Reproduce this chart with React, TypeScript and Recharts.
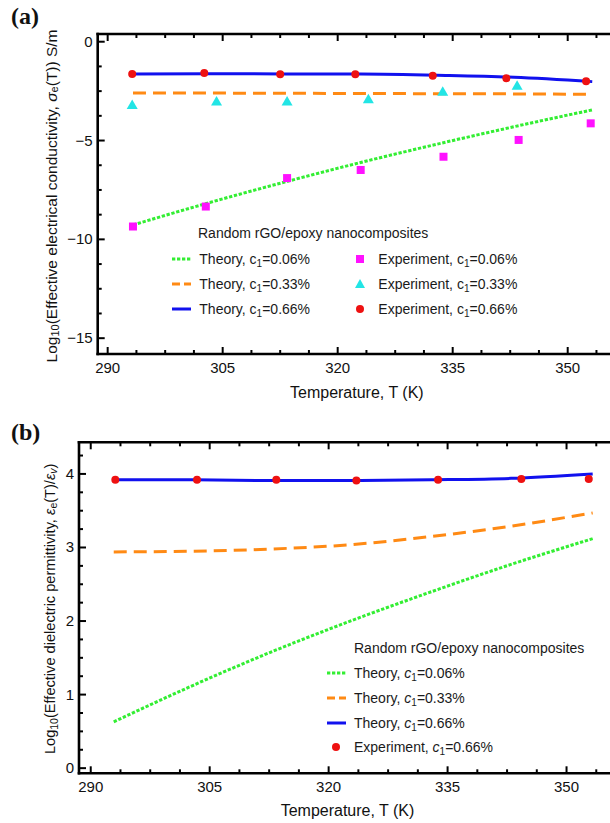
import React from 'react';
import { ComposedChart, Line, Scatter, XAxis, YAxis, Legend } from 'recharts';

// (a) log10 effective electrical conductivity
const tempTheoryA = [293.3, 303, 313, 323, 333, 343, 353.2];
const condTheory006 = [-9.27, -8.17, -7.11, -6.11, -5.18, -4.3, -3.45];
const condTheory033 = [-2.6, -2.6, -2.61, -2.62, -2.63, -2.64, -2.66];
const condTheory066 = [-1.63, -1.62, -1.63, -1.64, -1.7, -1.8, -2.02];

const tempExp006 = [293.3, 302.8, 313.4, 323.0, 333.8, 343.6, 353.0];
const condExp006 = [-9.35, -8.34, -6.9, -6.49, -5.82, -4.97, -4.13];
const tempExp033 = [293.2, 304.2, 313.4, 324.0, 333.7, 343.4];
const condExp033 = [-3.2, -3.03, -3.03, -2.91, -2.53, -2.23];
const tempExp066A = [293.2, 302.6, 312.5, 322.3, 332.4, 342.0, 352.4];
const condExp066 = [-1.63, -1.58, -1.65, -1.65, -1.72, -1.85, -2.0];

// (b) log10 effective dielectric permittivity
const tempTheoryB = [292.9, 303, 313, 323, 333, 343, 353.3];
const permTheory006 = [0.63, 1.13, 1.59, 2.01, 2.4, 2.77, 3.12];
const permTheory033 = [2.94, 2.95, 2.98, 3.04, 3.15, 3.29, 3.47];
const permTheory066 = [3.92, 3.92, 3.91, 3.91, 3.92, 3.94, 4.0];
const tempExpB = [293.1, 303.4, 313.4, 323.5, 333.8, 344.3, 352.8];
const permExp066 = [3.92, 3.92, 3.92, 3.91, 3.92, 3.93, 3.93];

// ticks
const xTicks = [290, 293.75, 297.5, 301.25, 305, 308.75, 312.5, 316.25, 320, 323.75, 327.5, 331.25, 335, 338.75, 342.5, 346.25, 350, 353.75];
const xMajor = [290, 305, 320, 335, 350];
const yTicksA = [0, -1.25, -2.5, -3.75, -5, -6.25, -7.5, -8.75, -10, -11.25, -12.5, -13.75, -15];
const yMajorA = [0, -5, -10, -15];
const yTicksB = [0, 0.25, 0.5, 0.75, 1, 1.25, 1.5, 1.75, 2, 2.25, 2.5, 2.75, 3, 3.25, 3.5, 3.75, 4, 4.25];
const yMajorB = [0, 1, 2, 3, 4];

const GREEN = '#33ee33';
const ORANGE = '#ff8a14';
const BLUE = '#1111ee';
const RED = '#ee1111';
const MAGENTA = '#ff11ff';
const CYAN = '#22e5e5';
const FONT = '"Liberation Sans", Arial, sans-serif';

const theoryA = tempTheoryA.map((T, i) => ({ T, c006: condTheory006[i], c033: condTheory033[i], c066: condTheory066[i] }));
const theoryB = tempTheoryB.map((T, i) => ({ T, c006: permTheory006[i], c033: permTheory033[i], c066: permTheory066[i] }));
const expA006 = tempExp006.map((T, i) => ({ T, v: condExp006[i] }));
const expA033 = tempExp033.map((T, i) => ({ T, v: condExp033[i] }));
const expA066 = tempExp066A.map((T, i) => ({ T, v: condExp066[i] }));
const expB066 = tempExpB.map((T, i) => ({ T, v: permExp066[i] }));

const fmt = (v: number) => (v < 0 ? '\u2212' + Math.abs(v) : String(v));

const makeXTick = (dir: number, labelDy: number | null) => (props: any) => {
  const { x, y, payload } = props;
  const major = xMajor.includes(payload.value);
  const len = major ? 7 : 4;
  return (
    <g>
      <line x1={x} x2={x} y1={y} y2={y + dir * len} stroke="#000" strokeWidth={2} />
      {labelDy !== null && major && (
        <text x={x} y={y + labelDy} textAnchor="middle" fontSize={15} fill="#111">{payload.value}</text>
      )}
    </g>
  );
};

const makeYTick = (majors: number[]) => (props: any) => {
  const { x, y, payload } = props;
  const major = majors.includes(payload.value);
  const len = major ? 7 : 4;
  return (
    <g>
      <line x1={x} x2={x + len} y1={y} y2={y} stroke="#000" strokeWidth={2} />
      {major && (
        <text x={x - 5} y={y + 5} textAnchor="end" fontSize={15} fill="#111">{fmt(payload.value)}</text>
      )}
    </g>
  );
};

const Square = (p: any) => <rect x={p.cx - 4} y={p.cy - 4} width={8} height={8} fill={MAGENTA} />;
const Tri = (p: any) => (
  <polygon points={`${p.cx},${p.cy - 5.5} ${p.cx - 5.5},${p.cy + 4} ${p.cx + 5.5},${p.cy + 4}`} fill={CYAN} />
);
const Dot = (p: any) => <circle cx={p.cx} cy={p.cy} r={4} fill={RED} />;

const xLabel = (dy: number) => (props: any) => {
  const vb = props.viewBox;
  return (
    <text x={vb.x + vb.width / 2 - 1} y={vb.y + dy} textAnchor="middle" fontSize={16} fill="#111">
      Temperature, T (K)
    </text>
  );
};

const yLabelA = (props: any) => {
  const vb = props.viewBox;
  const cx = 51;
  const cy = vb.y + vb.height / 2 + 2;
  return (
    <text x={cx} y={cy} transform={`rotate(-90 ${cx} ${cy})`} textAnchor="middle" fontSize={15.5} fill="#111" dominantBaseline="central">
      Log<tspan fontSize={11} dy={4}>10</tspan>
      <tspan dy={-4}>(Effective electrical conductivity, </tspan>
      <tspan fontStyle="italic">σ</tspan>
      <tspan fontSize={11} dy={3}>e</tspan>
      <tspan dy={-3}>(T)) S/m</tspan>
    </text>
  );
};

const yLabelB = (props: any) => {
  const vb = props.viewBox;
  const cx = 50;
  const cy = vb.y + vb.height / 2 + 1;
  return (
    <text x={cx} y={cy} transform={`rotate(-90 ${cx} ${cy})`} textAnchor="middle" fontSize={14.6} fill="#111" dominantBaseline="central">
      Log<tspan fontSize={10.5} dy={4}>10</tspan>
      <tspan dy={-4}>(Effective dielectric permittivity, </tspan>
      <tspan fontStyle="italic">ε</tspan>
      <tspan fontSize={10.5} dy={3}>e</tspan>
      <tspan dy={-3}>(T)/</tspan>
      <tspan fontStyle="italic">ε</tspan>
      <tspan fontSize={10.5} dy={3} fontStyle="italic">v</tspan>
      <tspan dy={-3}>)</tspan>
    </text>
  );
};

const LineIcon = ({ color, dash }: { color: string; dash?: string }) => (
  <svg width={19} height={6} style={{ position: 'absolute', left: 0, top: -3 }}>
    <line x1={0} x2={19} y1={3} y2={3} stroke={color} strokeWidth={3} strokeDasharray={dash} />
  </svg>
);

const MarkIcon = ({ kind }: { kind: string }) => (
  <svg width={12} height={12} style={{ position: 'absolute', left: -6, top: -6 }}>
    {kind === 'square' && <rect x={2} y={2} width={8} height={8} fill={MAGENTA} />}
    {kind === 'tri' && <polygon points="6,1 1,10 11,10" fill={CYAN} />}
    {kind === 'dot' && <circle cx={6} cy={6} r={4} fill={RED} />}
  </svg>
);

const Cname = ({ italic, pct }: { italic: boolean; pct: string }) => (
  <>
    <span style={{ fontStyle: italic ? 'italic' : 'normal' }}>c</span>
    <span style={{ fontSize: 10, position: 'relative', top: 3 }}>1</span>
    <span>={pct}</span>
  </>
);

const textStyle = (left: number, top: number): React.CSSProperties => ({
  position: 'absolute', left, top: top - 9, lineHeight: '18px', fontSize: 14, color: '#1a1a1a', whiteSpace: 'nowrap', fontFamily: FONT,
});

const legendA = () => (
  <div style={{ position: 'relative', width: 1, height: 1 }}>
    <div style={textStyle(198, 233)}>Random rGO/epoxy nanocomposites</div>
    <div style={{ position: 'absolute', left: 171.5, top: 259.3 }}><LineIcon color={GREEN} dash="3.3 1.7" /></div>
    <div style={textStyle(199.3, 259.3)}>Theory, <Cname italic={false} pct="0.06%" /></div>
    <div style={{ position: 'absolute', left: 171.5, top: 284.3 }}><LineIcon color={ORANGE} dash="8 4" /></div>
    <div style={textStyle(199.3, 284.3)}>Theory, <Cname italic={false} pct="0.33%" /></div>
    <div style={{ position: 'absolute', left: 171.5, top: 309 }}><LineIcon color={BLUE} /></div>
    <div style={textStyle(199.3, 309)}>Theory, <Cname italic={false} pct="0.66%" /></div>
    <div style={{ position: 'absolute', left: 360, top: 259.3 }}><MarkIcon kind="square" /></div>
    <div style={textStyle(378.3, 259.3)}>Experiment, <Cname italic={false} pct="0.06%" /></div>
    <div style={{ position: 'absolute', left: 360, top: 284.3 }}><MarkIcon kind="tri" /></div>
    <div style={textStyle(378.3, 284.3)}>Experiment, <Cname italic={false} pct="0.33%" /></div>
    <div style={{ position: 'absolute', left: 360, top: 309 }}><MarkIcon kind="dot" /></div>
    <div style={textStyle(378.3, 309)}>Experiment, <Cname italic={false} pct="0.66%" /></div>
  </div>
);

const legendB = () => (
  <div style={{ position: 'relative', width: 1, height: 1 }}>
    <div style={textStyle(354, 237.7)}>Random rGO/epoxy nanocomposites</div>
    <div style={{ position: 'absolute', left: 326.7, top: 262.7 }}><LineIcon color={GREEN} dash="3.3 1.7" /></div>
    <div style={textStyle(354, 262.7)}>Theory, <Cname italic pct="0.06%" /></div>
    <div style={{ position: 'absolute', left: 326.7, top: 287.7 }}><LineIcon color={ORANGE} dash="8 4" /></div>
    <div style={textStyle(354, 287.7)}>Theory, <Cname italic pct="0.33%" /></div>
    <div style={{ position: 'absolute', left: 326.7, top: 312.7 }}><LineIcon color={BLUE} /></div>
    <div style={textStyle(354, 312.7)}>Theory, <Cname italic pct="0.66%" /></div>
    <div style={{ position: 'absolute', left: 336, top: 337.3 }}><MarkIcon kind="dot" /></div>
    <div style={textStyle(354, 337.3)}>Experiment, <Cname italic pct="0.66%" /></div>
  </div>
);

const axisLineStyle = { stroke: '#000', strokeWidth: 2.6, strokeLinecap: 'square' as const };
const panelLabel = (top: number): React.CSSProperties => ({
  position: 'absolute', left: 11, top, fontFamily: '"Liberation Serif", "Times New Roman", serif', fontWeight: 'bold', fontSize: 24, lineHeight: '24px', color: '#111',
});

export default function App() {
  return (
    <div style={{ position: 'absolute', left: 0, top: 0, width: 610, height: 823, overflow: 'hidden', background: '#fff', fontFamily: FONT }}>
      <div style={panelLabel(4)}>(a)</div>
      <div style={panelLabel(420)}>(b)</div>

      <div style={{ position: 'absolute', left: 0, top: 0 }}>
        <ComposedChart width={620} height={410} data={theoryA} margin={{ top: 24, right: 2, bottom: 0, left: 37.7 }}>
          <XAxis xAxisId={0} dataKey="T" type="number" domain={[288.7, 356.56]} allowDataOverflow ticks={xTicks} interval={0}
            height={56} tickLine={false} tickSize={0} tickMargin={0} axisLine={axisLineStyle} tick={makeXTick(-1, 19)}
            label={{ content: xLabel(44) }} />
          <XAxis xAxisId="top" orientation="top" dataKey="T" type="number" domain={[288.7, 356.56]} allowDataOverflow ticks={xTicks} interval={0}
            height={10} tickLine={false} tickSize={0} tickMargin={0} axisLine={axisLineStyle} tick={makeXTick(1, null)} />
          <YAxis type="number" domain={[-15.8, 0.39]} allowDataOverflow ticks={yTicksA} interval={0} width={60}
            tickLine={false} tickSize={0} tickMargin={0} axisLine={axisLineStyle} tick={makeYTick(yMajorA)}
            label={{ content: yLabelA }} />
          <Line dataKey="c006" type="monotone" stroke={GREEN} strokeWidth={3} strokeDasharray="3.3 1.7" dot={false} isAnimationActive={false} />
          <Line dataKey="c033" type="monotone" stroke={ORANGE} strokeWidth={3} strokeDasharray="13 7" dot={false} isAnimationActive={false} />
          <Line dataKey="c066" type="monotone" stroke={BLUE} strokeWidth={3} dot={false} isAnimationActive={false} />
          <Scatter data={expA006} dataKey="v" shape={Square} isAnimationActive={false} />
          <Scatter data={expA033} dataKey="v" shape={Tri} isAnimationActive={false} />
          <Scatter data={expA066} dataKey="v" shape={Dot} isAnimationActive={false} />
          <Legend layout="vertical" align="center" verticalAlign="middle" wrapperStyle={{ left: 0, top: 0, width: 1, height: 1 }} content={legendA} />
        </ComposedChart>
      </div>

      <div style={{ position: 'absolute', left: 0, top: 410 }}>
        <ComposedChart width={620} height={413} data={theoryB} margin={{ top: 22.3, right: 2, bottom: 0, left: 19 }}>
          <XAxis xAxisId={0} dataKey="T" type="number" domain={[288.52, 356.49]} allowDataOverflow ticks={xTicks} interval={0}
            height={49.7} tickLine={false} tickSize={0} tickMargin={0} axisLine={axisLineStyle} tick={makeXTick(-1, 18.5)}
            label={{ content: xLabel(43) }} />
          <XAxis xAxisId="top" orientation="top" dataKey="T" type="number" domain={[288.52, 356.49]} allowDataOverflow ticks={xTicks} interval={0}
            height={10} tickLine={false} tickSize={0} tickMargin={0} axisLine={axisLineStyle} tick={makeXTick(1, null)} />
          <YAxis type="number" domain={[-0.07, 4.43]} allowDataOverflow ticks={yTicksB} interval={0} width={60}
            tickLine={false} tickSize={0} tickMargin={0} axisLine={axisLineStyle} tick={makeYTick(yMajorB)}
            label={{ content: yLabelB }} />
          <Line dataKey="c006" type="monotone" stroke={GREEN} strokeWidth={3} strokeDasharray="3.3 1.7" dot={false} isAnimationActive={false} />
          <Line dataKey="c033" type="monotone" stroke={ORANGE} strokeWidth={3} strokeDasharray="13 7" dot={false} isAnimationActive={false} />
          <Line dataKey="c066" type="monotone" stroke={BLUE} strokeWidth={3} dot={false} isAnimationActive={false} />
          <Scatter data={expB066} dataKey="v" shape={Dot} isAnimationActive={false} />
          <Legend layout="vertical" align="center" verticalAlign="middle" wrapperStyle={{ left: 0, top: 0, width: 1, height: 1 }} content={legendB} />
        </ComposedChart>
      </div>
    </div>
  );
}
